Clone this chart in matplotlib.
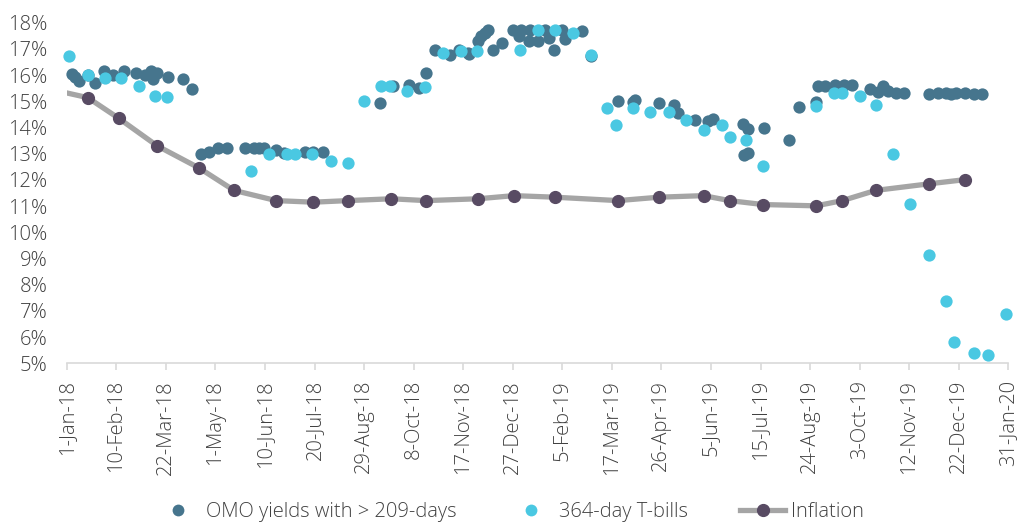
import numpy as np
import matplotlib
matplotlib.use("Agg")
import matplotlib.pyplot as plt
from matplotlib.lines import Line2D

# days counted from 1-Jan-18
omo_days = [4, 7, 10, 17, 23, 30, 37, 46, 56, 63, 68, 70, 73, 82, 94, 101,
            108, 115, 122, 129, 144, 151, 155, 159, 169, 175, 192, 199, 207,
            253, 263, 276, 284, 290, 297, 309, 317, 324, 325, 332, 334, 338, 340,
            344, 351, 360, 365, 367, 373, 374, 380, 386, 389, 393, 400, 402, 416,
            423, 445, 457, 459, 478, 490, 493, 507, 518, 522, 546, 550, 547, 550,
            563, 583, 591, 605, 606, 612, 620, 627, 634, 648, 655, 659, 663, 669,
            676, 696, 703, 710, 714, 718, 725, 732, 739]
omo_vals = [16.05, 15.93, 15.76, 16.01, 15.70, 16.14, 16.01, 16.14, 16.08, 16.01, 16.14, 15.85, 16.08, 15.93, 15.85, 15.46,
            12.98, 13.07, 13.20, 13.20, 13.20, 13.20, 13.20, 13.20, 13.13, 13.03, 13.07, 13.07, 13.07,
            14.93, 15.60, 15.63, 15.50, 16.08, 16.97, 16.78, 16.97, 16.85, 16.81, 17.29, 17.49, 17.62, 17.74,
            16.97, 17.23, 17.74, 17.49, 17.74, 17.29, 17.74, 17.29, 17.74, 17.42, 16.97, 17.74, 17.36, 17.70,
            16.72, 15.02, 14.99, 15.05, 14.95, 14.86, 14.57, 14.29, 14.25, 14.31, 14.12, 13.94, 12.94, 13.01,
            13.97, 13.52, 14.80, 14.99, 15.59, 15.59, 15.63, 15.63, 15.63, 15.46, 15.37, 15.59, 15.41, 15.33,
            15.33, 15.27, 15.33, 15.33, 15.27, 15.33, 15.33, 15.27, 15.27]

tbill_days = [2, 17, 31, 44, 58, 71, 81, 149, 163, 178, 184, 198, 213, 227,
              240, 254, 261, 275, 289, 304, 318, 331, 366, 380, 394, 409, 423,
              436, 443, 457, 471, 486, 500, 514, 529, 535, 548, 562, 605, 619,
              626, 640, 653, 667, 681, 696, 710, 716, 732, 744, 758]
tbill_vals = [16.72, 16.01, 15.89, 15.89, 15.59, 15.21, 15.16, 12.33, 12.98, 12.98, 12.98, 12.98, 12.72, 12.65,
              15.03, 15.60, 15.60, 15.40, 15.53, 16.85, 16.91, 16.91, 16.97, 17.74, 17.74, 17.62, 16.78,
              14.74, 14.09, 14.74, 14.60, 14.60, 14.29, 13.90, 14.09, 13.64, 13.52, 12.52, 14.82, 15.33,
              15.33, 15.21, 14.86, 12.98, 11.09, 9.13, 7.37, 5.80, 5.38, 5.32, 6.88]

infl_days = [-1, 17, 42, 73, 107, 135, 169, 199, 227, 262, 290, 332, 361,
             394, 445, 478, 514, 535, 562, 605, 626, 653, 696, 725]
infl_vals = [15.33, 15.14, 14.35, 13.30, 12.45, 11.60, 11.21, 11.15, 11.21, 11.28, 11.21, 11.28, 11.40,
             11.34, 11.21, 11.34, 11.40, 11.21, 11.06, 11.01, 11.21, 11.60, 11.85, 12.01]

tick_labels = ['1-Jan-18', '10-Feb-18', '22-Mar-18', '1-May-18', '10-Jun-18', '20-Jul-18',
               '29-Aug-18', '8-Oct-18', '17-Nov-18', '27-Dec-18', '5-Feb-19', '17-Mar-19',
               '26-Apr-19', '5-Jun-19', '15-Jul-19', '24-Aug-19', '3-Oct-19', '12-Nov-19',
               '22-Dec-19', '31-Jan-20']
y_ticks = list(range(5, 19))

c_omo = '#46758d'
c_tb = '#4ac8e2'
c_inf = '#584b63'
c_line = '#a5a5a5'
txt = '#404040'
fs = 14.5

plt.rcParams['font.family'] = ['Open Sans', 'DejaVu Sans']
plt.rcParams['font.weight'] = 'light'

start = np.datetime64('2018-01-01')
def to_date(d):
    return start + np.array(d).astype('timedelta64[D]')

fig = plt.figure(figsize=(10.19, 5.22), dpi=100)
ax = fig.add_axes([0.0655, 0.304, 0.924, 0.6525])

ax.scatter(to_date(omo_days), omo_vals, s=78, color=c_omo, linewidths=0, zorder=2, clip_on=False)
ax.scatter(to_date(tbill_days), tbill_vals, s=78, color=c_tb, linewidths=0, zorder=3, clip_on=False)
ax.plot(to_date(infl_days), infl_vals, color=c_line, lw=3.8, zorder=4,
        marker='o', markersize=8.5, markerfacecolor=c_inf, markeredgecolor=c_inf,
        markevery=list(range(1, len(infl_days))))

tick_pos = to_date([40 * i for i in range(len(tick_labels))])
ax.set_xlim(start, start + np.timedelta64(760, 'D'))
ax.set_xticks(tick_pos)
ax.set_xticklabels(tick_labels, rotation=90, fontsize=fs, color=txt)
ax.set_ylim(5, 18)
ax.set_yticks(y_ticks)
ax.set_yticklabels([f'{v}%' for v in y_ticks], fontsize=fs, color=txt)

for s in ['top', 'right', 'left']:
    ax.spines[s].set_visible(False)
ax.spines['bottom'].set_color('#d9d9d9')
ax.spines['bottom'].set_linewidth(1.2)
ax.tick_params(axis='x', direction='out', length=5, color='#d9d9d9', width=1.2, pad=7)
ax.tick_params(axis='y', length=0, pad=14)

handles = [
    Line2D([], [], ls='none', marker='o', markersize=8.5, color=c_omo, markeredgewidth=0),
    Line2D([], [], ls='none', marker='o', markersize=8.5, color=c_tb, markeredgewidth=0),
    Line2D([], [], color=c_line, lw=3.8, marker='o', markersize=8.5,
           markerfacecolor=c_inf, markeredgecolor=c_inf),
]
fig.legend(handles, ['OMO yields with > 209-days', '364-day T-bills', 'Inflation'],
           loc='center', bbox_to_anchor=(0.5, 0.02), ncol=3, frameon=False,
           fontsize=fs, labelcolor=txt, columnspacing=2.6, handletextpad=0.3,
           handlelength=2.2)

fig.savefig('out.png', dpi=100)
